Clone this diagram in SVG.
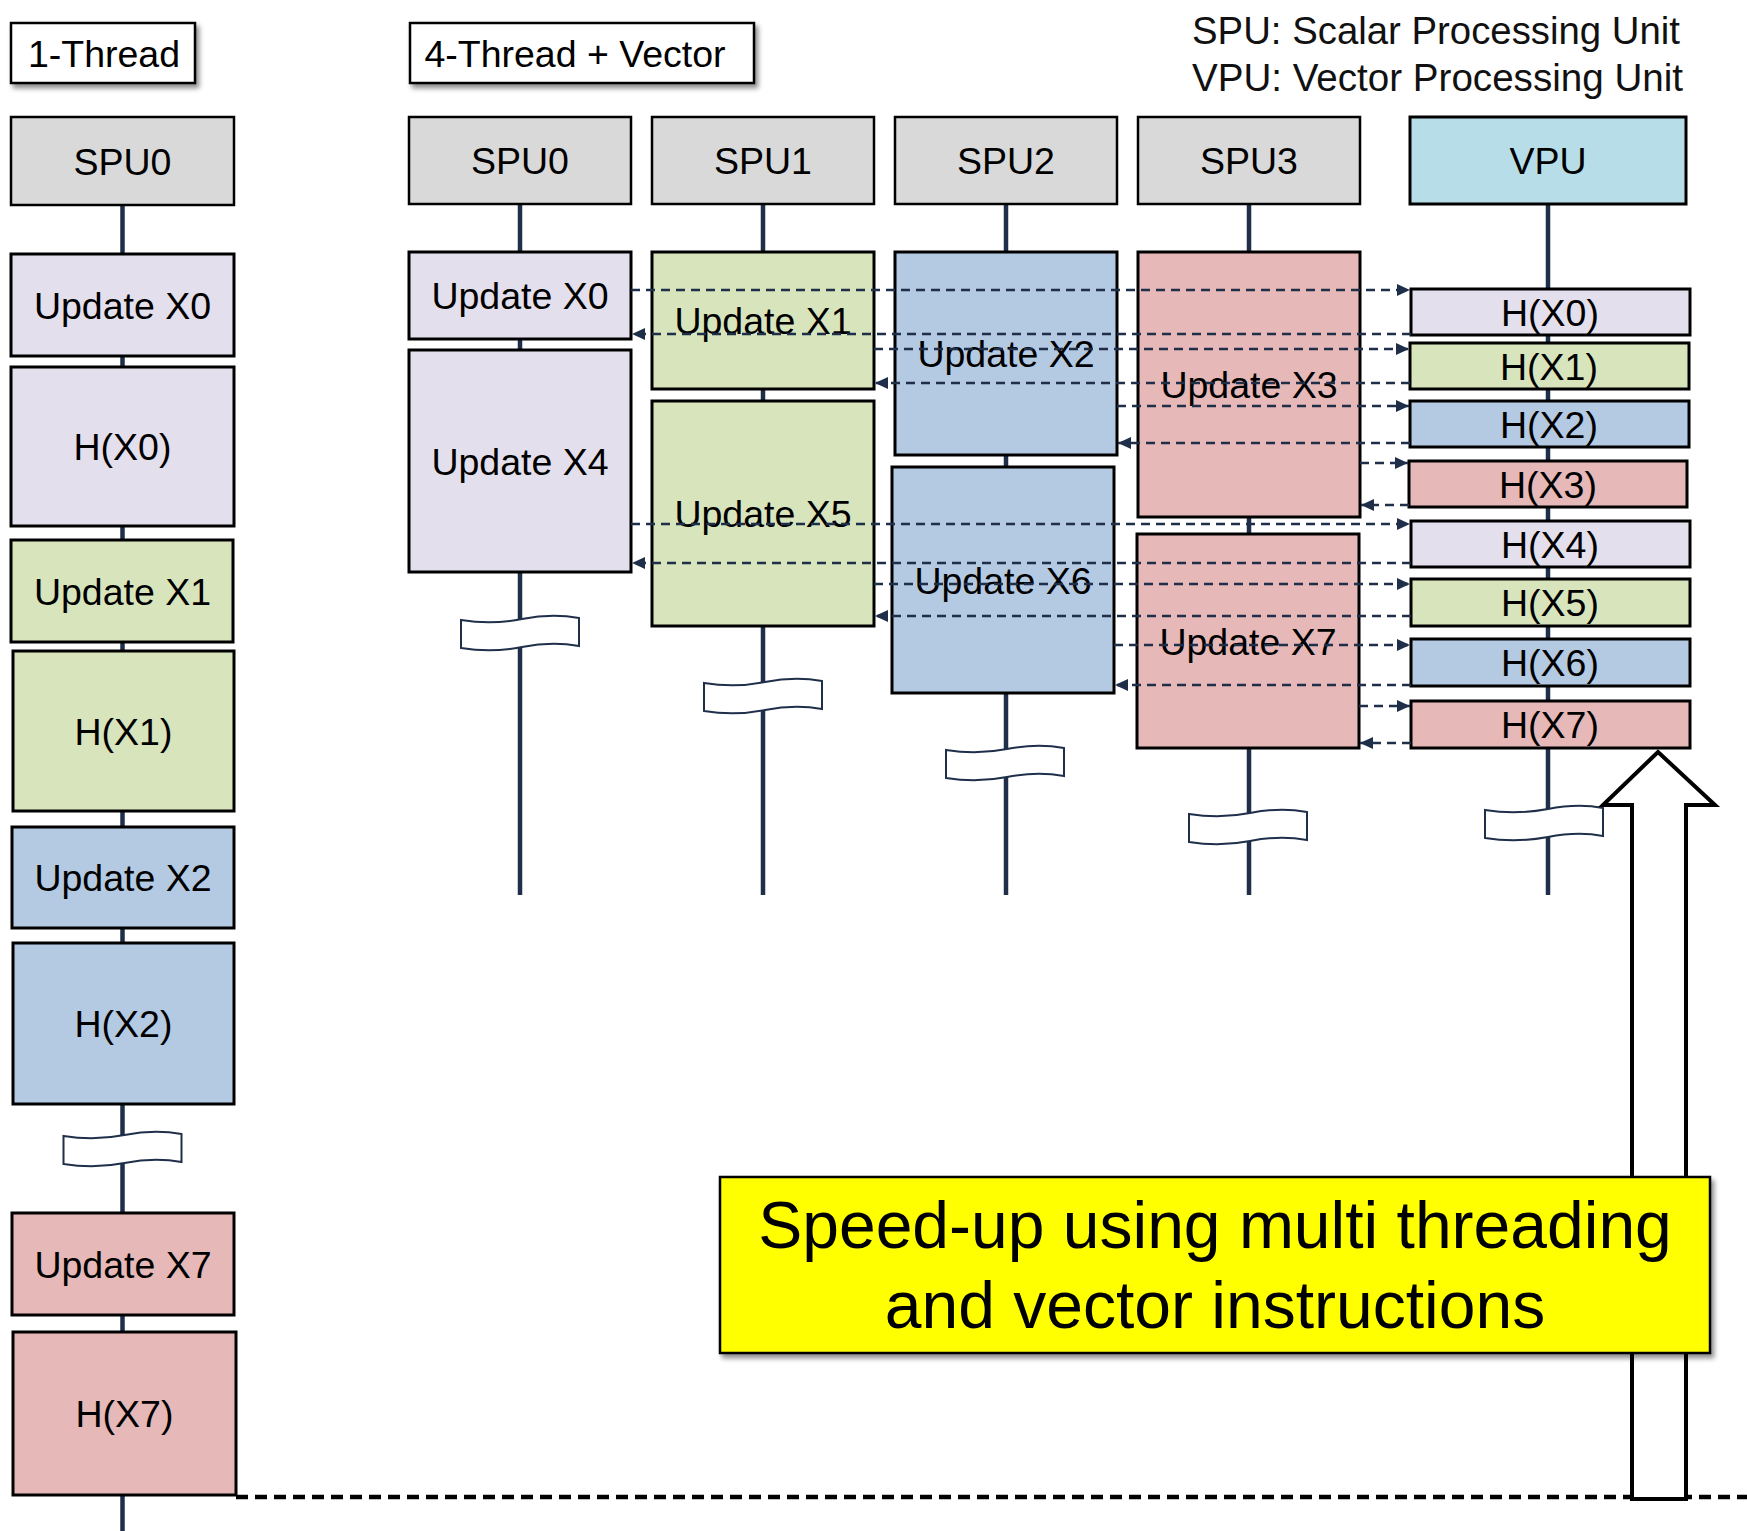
<svg xmlns="http://www.w3.org/2000/svg" width="1747" height="1531" viewBox="0 0 1747 1531">
<style>
.t{font-family:"Liberation Sans",Arial,sans-serif;font-size:37.5px;text-anchor:middle;fill:#000}
.big{font-family:"Liberation Sans",Arial,sans-serif;font-size:66px;text-anchor:middle;fill:#000}
.leg{font-family:"Liberation Sans",Arial,sans-serif;font-size:38px;fill:#111}
.box{stroke:#000;stroke-width:3}
.hdr{fill:#d9d9d9;stroke:#000;stroke-width:2.5}
.ttl{fill:#fff;stroke:#000;stroke-width:2.5}
.lav{fill:#e4dfec}.grn{fill:#d8e4bc}.blu{fill:#b4c9e2}.pnk{fill:#e6b8b7}.vpu{fill:#b7dee8}
.life{stroke:#1f2f4a;stroke-width:4.5;fill:none}
.brk{fill:#fff;stroke:#1f2f4a;stroke-width:2}
.dash{stroke:#1f2f4a;stroke-width:2.5;stroke-dasharray:9 6;fill:none;marker-end:url(#ah)}
</style>
<defs>
<marker id="ah" markerUnits="userSpaceOnUse" markerWidth="13" markerHeight="12" refX="13" refY="6" orient="auto"><path d="M0,0 L13,6 L0,12 Z" fill="#1f2f4a"/></marker>
<filter id="sh" x="-10%" y="-20%" width="125%" height="150%"><feDropShadow dx="3" dy="4" stdDeviation="2.5" flood-color="#000" flood-opacity="0.45"/></filter>
</defs>
<rect width="1747" height="1531" fill="#fff"/>

<g id="titles">
<g id="title-1thread"><rect class="ttl" x="11" y="23" width="184" height="60" filter="url(#sh)"/><text class="t" x="104" y="66.5">1-Thread</text></g>
<g id="title-4thread"><rect class="ttl" x="410" y="23" width="344" height="60" filter="url(#sh)"/><text class="t" x="575" y="66.5">4-Thread + Vector</text></g>
<g id="legend"><text class="leg" x="1192" y="44" textLength="488" lengthAdjust="spacingAndGlyphs">SPU: Scalar Processing Unit</text><text class="leg" x="1192" y="91" textLength="491" lengthAdjust="spacingAndGlyphs">VPU: Vector Processing Unit</text></g>
</g>

<g id="lifelines">
<line class="life" x1="122.5" y1="205" x2="122.5" y2="1531"/>
<line class="life" x1="520" y1="204" x2="520" y2="895"/>
<line class="life" x1="763" y1="204" x2="763" y2="895"/>
<line class="life" x1="1006" y1="204" x2="1006" y2="895"/>
<line class="life" x1="1249" y1="204" x2="1249" y2="895"/>
<line class="life" x1="1548" y1="204" x2="1548" y2="895"/>
</g>

<g id="breaks">
<path class="brk" d="M63.5,1136 Q94.5,1141 124.5,1135 Q154.5,1129 181.5,1134 L181.5,1162 Q154.5,1157 124.5,1163 Q94.5,1169 63.5,1164 Z"/>
<path class="brk" d="M461,620 Q492,625 522,619 Q552,613 579,618 L579,646 Q552,641 522,647 Q492,653 461,648 Z"/>
<path class="brk" d="M704,683 Q735,688 765,682 Q795,676 822,681 L822,709 Q795,704 765,710 Q735,716 704,711 Z"/>
<path class="brk" d="M946,750 Q977,755 1007,749 Q1037,743 1064,748 L1064,776 Q1037,771 1007,777 Q977,783 946,778 Z"/>
<path class="brk" d="M1189,814 Q1220,819 1250,813 Q1280,807 1307,812 L1307,840 Q1280,835 1250,841 Q1220,847 1189,842 Z"/>
<path class="brk" d="M1485,810 Q1516,815 1548,809 Q1578,803 1603,808 L1603,836 Q1578,831 1548,837 Q1516,843 1485,838 Z"/>
</g>

<g id="one-thread">
<g id="L-SPU0"><rect class="hdr" x="11" y="117" width="223" height="88"/><text class="t" x="122.5" y="174.5">SPU0</text></g>
<g id="L-UX0"><rect class="box lav" x="11" y="254" width="223" height="102"/><text class="t" x="122.5" y="318.5">Update X0</text></g>
<g id="L-HX0"><rect class="box lav" x="11" y="367" width="223" height="159"/><text class="t" x="122.5" y="460">H(X0)</text></g>
<g id="L-UX1"><rect class="box grn" x="11" y="540" width="222" height="102"/><text class="t" x="122.5" y="604.5">Update X1</text></g>
<g id="L-HX1"><rect class="box grn" x="13" y="651" width="221" height="160"/><text class="t" x="123.5" y="744.5">H(X1)</text></g>
<g id="L-UX2"><rect class="box blu" x="12" y="827" width="222" height="101"/><text class="t" x="123" y="891">Update X2</text></g>
<g id="L-HX2"><rect class="box blu" x="13" y="943" width="221" height="161"/><text class="t" x="123.5" y="1037">H(X2)</text></g>
<g id="L-UX7"><rect class="box pnk" x="12" y="1213" width="222" height="102"/><text class="t" x="123" y="1277.5">Update X7</text></g>
<g id="L-HX7"><rect class="box pnk" x="13" y="1332" width="223" height="163"/><text class="t" x="124.5" y="1427">H(X7)</text></g>
</g>

<g id="four-thread">
<g id="SPU0"><rect class="hdr" x="409" y="117" width="222" height="87"/><text class="t" x="520" y="174">SPU0</text></g>
<g id="SPU1"><rect class="hdr" x="652" y="117" width="222" height="87"/><text class="t" x="763" y="174">SPU1</text></g>
<g id="SPU2"><rect class="hdr" x="895" y="117" width="222" height="87"/><text class="t" x="1006" y="174">SPU2</text></g>
<g id="SPU3"><rect class="hdr" x="1138" y="117" width="222" height="87"/><text class="t" x="1249" y="174">SPU3</text></g>
<g id="VPU"><rect class="box vpu" x="1410" y="117" width="276" height="87" stroke-width="2.5"/><text class="t" x="1548" y="174">VPU</text></g>

<g id="UX0"><rect class="box lav" x="409" y="252" width="222" height="87"/><text class="t" x="520" y="309">Update X0</text></g>
<g id="UX4"><rect class="box lav" x="409" y="350" width="222" height="222"/><text class="t" x="520" y="474.5">Update X4</text></g>
<g id="UX1"><rect class="box grn" x="652" y="252" width="222" height="137"/><text class="t" x="763" y="334">Update X1</text></g>
<g id="UX5"><rect class="box grn" x="652" y="401" width="222" height="225"/><text class="t" x="763" y="527">Update X5</text></g>
<g id="UX2"><rect class="box blu" x="895" y="252" width="222" height="203"/><text class="t" x="1006" y="367">Update X2</text></g>
<g id="UX6"><rect class="box blu" x="892" y="467" width="222" height="226"/><text class="t" x="1003" y="593.5">Update X6</text></g>
<g id="UX3"><rect class="box pnk" x="1138" y="252" width="222" height="265"/><text class="t" x="1249" y="398">Update X3</text></g>
<g id="UX7"><rect class="box pnk" x="1137" y="534" width="222" height="214"/><text class="t" x="1248" y="654.5">Update X7</text></g>

<g id="HX0"><rect class="box lav" x="1411" y="289" width="279" height="46"/><text class="t" x="1550" y="325.5">H(X0)</text></g>
<g id="HX1"><rect class="box grn" x="1410" y="343" width="279" height="46"/><text class="t" x="1549" y="379.5">H(X1)</text></g>
<g id="HX2"><rect class="box blu" x="1410" y="401" width="279" height="46"/><text class="t" x="1549" y="437.5">H(X2)</text></g>
<g id="HX3"><rect class="box pnk" x="1409" y="461" width="278" height="46"/><text class="t" x="1548" y="497.5">H(X3)</text></g>
<g id="HX4"><rect class="box lav" x="1411" y="521" width="279" height="46"/><text class="t" x="1550" y="557.5">H(X4)</text></g>
<g id="HX5"><rect class="box grn" x="1411" y="579" width="279" height="47"/><text class="t" x="1550" y="616">H(X5)</text></g>
<g id="HX6"><rect class="box blu" x="1411" y="639" width="279" height="47"/><text class="t" x="1550" y="676">H(X6)</text></g>
<g id="HX7"><rect class="box pnk" x="1411" y="701" width="279" height="47"/><text class="t" x="1550" y="738">H(X7)</text></g>
</g>

<g id="connectors">
<path class="dash" d="M631,290 H1410"/>
<path class="dash" d="M1411,334 H632"/>
<path class="dash" d="M874,349 H1409"/>
<path class="dash" d="M1410,383 H875"/>
<path class="dash" d="M1117,406 H1409"/>
<path class="dash" d="M1410,443 H1118"/>
<path class="dash" d="M1360,463 H1408"/>
<path class="dash" d="M1409,505 H1361"/>
<path class="dash" d="M631,524 H1410"/>
<path class="dash" d="M1411,563 H632"/>
<path class="dash" d="M874,584 H1410"/>
<path class="dash" d="M1411,616 H875"/>
<path class="dash" d="M1114,645 H1410"/>
<path class="dash" d="M1411,685 H1115"/>
<path class="dash" d="M1359,706 H1410"/>
<path class="dash" d="M1411,743 H1360"/>
<path d="M236,1497 H1747" stroke="#000" stroke-width="4.5" stroke-dasharray="12 7" fill="none"/>
</g>

<g id="speedup-arrow"><polygon points="1658,752 1715,805 1686,805 1686,1499 1632,1499 1632,805 1603,805" fill="#fff" stroke="#000" stroke-width="4" stroke-linejoin="miter"/></g>

<g id="speedup-note"><rect x="720" y="1177" width="990" height="176" fill="#ffff00" stroke="#000" stroke-width="2.5" filter="url(#sh)"/><text class="big" x="1215" y="1248">Speed-up using multi threading</text><text class="big" x="1215" y="1328">and vector instructions</text></g>
</svg>
